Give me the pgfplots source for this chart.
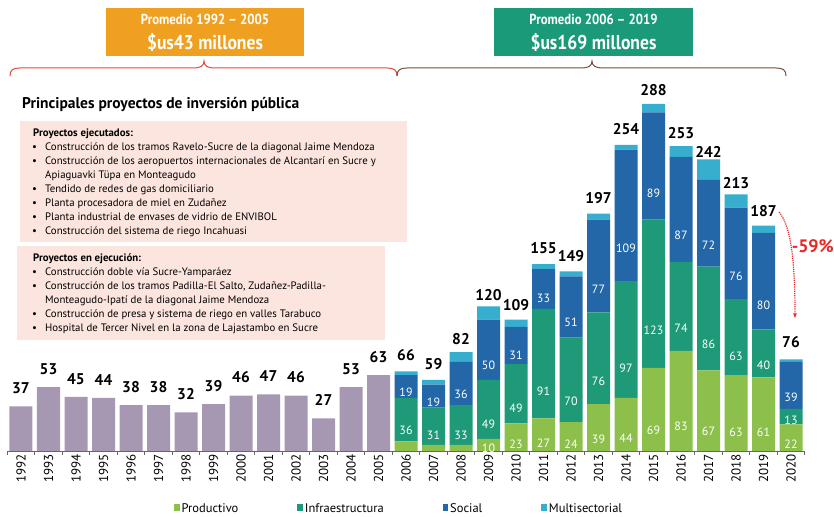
\documentclass[border=0pt]{standalone}
\usepackage{pgfplots}
\pgfplotsset{compat=1.18}
\usepackage{fontspec}
\setmainfont{PT Sans}
\newfontfamily\condf[FakeStretch=0.88]{PT Sans}
\usetikzlibrary{arrows.meta}
\definecolor{purp}{RGB}{166,152,178}
\definecolor{prodc}{RGB}{141,192,74}
\definecolor{infrac}{RGB}{31,154,120}
\definecolor{socc}{RGB}{35,103,168}
\definecolor{multic}{RGB}{56,174,206}
\definecolor{orangeb}{RGB}{240,160,32}
\definecolor{tealb}{RGB}{27,154,121}
\definecolor{pinkb}{RGB}{252,229,222}
\definecolor{bred}{RGB}{232,70,60}
\definecolor{bbrown}{RGB}{120,80,60}
\definecolor{redt}{RGB}{232,40,36}
\newcommand\bfont{\fontsize{10.8}{13}\selectfont}
\newcommand\hl[2]{\node[anchor=base west, inner sep=0, font=\bfont\bfseries] at (33,#1) {#2};}
\newcommand\bl[2]{\node[anchor=base west, inner sep=0, font=\bfont] at (32,#1) {\makebox[13pt][l]{\textbullet}#2};}
\newcommand\cl[2]{\node[anchor=base west, inner sep=0, font=\bfont] at (45,#1) {#2};}
\pgfplotsset{inlab/.style={nodes near coords={\pgfmathparse{\rawy<9}\ifdim\pgfmathresult pt>0.5pt\else\pgfmathprintnumber{\rawy}\fi},
  every node near coord/.append style={anchor=center, yshift={-0.30125pt*\rawy}, text=white, font=\fontsize{12}{12}\selectfont}}}
\begin{document}
\begin{tikzpicture}[x=1pt,y=1pt]
\path (0,0) rectangle (834,515);
% header boxes
\fill[orangeb] (106,459) rectangle (304,507);
\node[text=white, font=\condf\bfseries\fontsize{14.5}{15}\selectfont] at (205,496) {Promedio 1992 – 2005};
\node[text=white, font=\condf\bfseries\fontsize{20}{20}\selectfont] at (205,472) {\$us43 millones};
\fill[tealb] (494,459) rectangle (693,507);
\node[text=white, font=\condf\bfseries\fontsize{14.5}{15}\selectfont] at (593.5,496) {Promedio 2006 – 2019};
\node[text=white, font=\condf\bfseries\fontsize{20}{20}\selectfont] at (593.5,472) {\$us169 millones};
% braces
\draw[bred, line width=1pt] (10,439) .. controls (10,445) and (13,447) .. (20,447) -- (194,447) .. controls (200,447) and (204,449) .. (204,454) .. controls (204,449) and (208,447) .. (214,447) -- (387,447) .. controls (394,447) and (397,445) .. (397,439);
\draw[bbrown, line width=1pt] (397,439) .. controls (397,445) and (400,447) .. (407,447) -- (582,447) .. controls (588,447) and (592,449) .. (592,454) .. controls (592,449) and (596,447) .. (602,447) -- (776,447) .. controls (783,447) and (786,445) .. (786,439);
% title
\node[anchor=west, inner sep=0, font=\bfseries\fontsize{15.5}{16}\selectfont] at (22,410) {Principales proyectos de inversión pública};
% box 1
\fill[pinkb] (20,273) rectangle (407,394);
\hl{378.5}{Proyectos ejecutados:}
\bl{364.5}{Construcción de los tramos Ravelo-Sucre de la diagonal Jaime Mendoza}
\bl{350.5}{Construcción de los aeropuertos internacionales de Alcantarí en Sucre y}
\cl{336.5}{Apiaguavki Tüpa en Monteagudo}
\bl{322.5}{Tendido de redes de gas domiciliario}
\bl{308.5}{Planta procesadora de miel en Zudañez}
\bl{294.5}{Planta industrial de envases de vidrio de ENVIBOL}
\bl{280.5}{Construcción del sistema de riego Incahuasi}
% box 2
\fill[pinkb] (17,175) rectangle (385,269);
\hl{253}{Proyectos en ejecución:}
\bl{239}{Construcción doble vía Sucre-Yamparáez}
\bl{225}{Construcción de los tramos Padilla-El Salto, Zudañez-Padilla-}
\cl{211}{Monteagudo-Ipatí de la diagonal Jaime Mendoza}
\bl{197}{Construcción de presa y sistema de riego en valles Tarabuco}
\bl{183}{Hospital de Tercer Nivel en la zona de Lajastambo en Sucre}

\begin{axis}[
  at={(7.25pt,64pt)}, anchor=south west, x=27.5pt, y=1.205pt,
  xmin=-0.5, xmax=28.5, ymin=0, ymax=300, clip=false,
  /pgf/number format/assume math mode=true,
  axis x line*=bottom, axis y line=none,
  axis line style={black!60, line width=0.8pt},
  xtick={0,...,28},
  xticklabels={1992,1993,1994,1995,1996,1997,1998,1999,2000,2001,2002,2003,2004,2005,2006,2007,2008,2009,2010,2011,2012,2013,2014,2015,2016,2017,2018,2019,2020},
  major tick length=0pt,
  minor xtick={-0.5,0.5,...,28.5}, minor tick length=4pt,
  xtick align=outside,
  minor tick style={black!60, line width=0.6pt},
  xticklabel style={rotate=90, anchor=east, font=\fontsize{13}{13}\selectfont},
  ytick=\empty,
]
\addplot[ybar, bar width=23pt, fill=purp, draw=none, nodes near coords,
  nodes near coords style={font=\bfseries\fontsize{15.5}{15}\selectfont, text=black, yshift=9pt}]
  coordinates {(0,37) (1,53) (2,45) (3,44) (4,38) (5,38) (6,32) (7,39) (8,46) (9,47) (10,46) (11,27) (12,53) (13,63)};
\end{axis}

\begin{axis}[
  at={(7.25pt,64pt)}, anchor=south west, x=27.5pt, y=1.205pt,
  xmin=-0.5, xmax=28.5, ymin=0, ymax=300, clip=false, hide axis,
  /pgf/number format/assume math mode=true,
  ybar stacked, bar width=23pt,
  visualization depends on=rawy\as\rawy,
  legend columns=4,
  legend image code/.code={\fill[#1] (0pt,-2.5pt) rectangle (5.5pt,4.5pt);},
  legend style={at={(0.209,-0.160)}, anchor=west, draw=none, fill=none, inner sep=0pt,
    font=\fontsize{12.5}{12.5}\selectfont,
    /tikz/every even column/.append style={column sep=57pt}},
]
\addplot[fill=prodc, draw=none, inlab] coordinates {(14,8) (15,5) (16,5) (17,10) (18,23) (19,27) (20,24) (21,39) (22,44) (23,69) (24,83) (25,67) (26,63) (27,61) (28,22)};
\addlegendentry{Productivo}
\addplot[fill=infrac, draw=none, inlab] coordinates {(14,36) (15,31) (16,33) (17,49) (18,49) (19,91) (20,70) (21,76) (22,97) (23,123) (24,74) (25,86) (26,63) (27,40) (28,13)};
\addlegendentry{Infraestructura}
\addplot[fill=socc, draw=none, inlab] coordinates {(14,19) (15,19) (16,36) (17,50) (18,31) (19,33) (20,51) (21,77) (22,109) (23,89) (24,87) (25,72) (26,76) (27,80) (28,39)};
\addlegendentry{Social}
\addplot[fill=multic, draw=none, point meta=explicit symbolic, nodes near coords,
  nodes near coords style={anchor=south, font=\bfseries\fontsize{15.5}{15}\selectfont, text=black, yshift=9pt}]
  coordinates {(14,3) [66] (15,4) [59] (16,8) [82] (17,11) [120] (18,6) [109] (19,4) [155] (20,4) [149] (21,5) [197] (22,4) [254] (23,7) [288] (24,9) [253] (25,17) [242] (26,11) [213] (27,6) [187] (28,2) [76]};
\addlegendentry{Multisectorial}
\end{axis}

\draw[redt, densely dotted, line width=1.2pt, -{Stealth[length=5pt]}] (779,303) .. controls (790,290) and (795,260) .. (795,197);
\node[anchor=east, text=redt, font=\bfseries\fontsize{18}{18}\selectfont, inner sep=0] at (834,269) {-59\%};
\end{tikzpicture}
\end{document}
